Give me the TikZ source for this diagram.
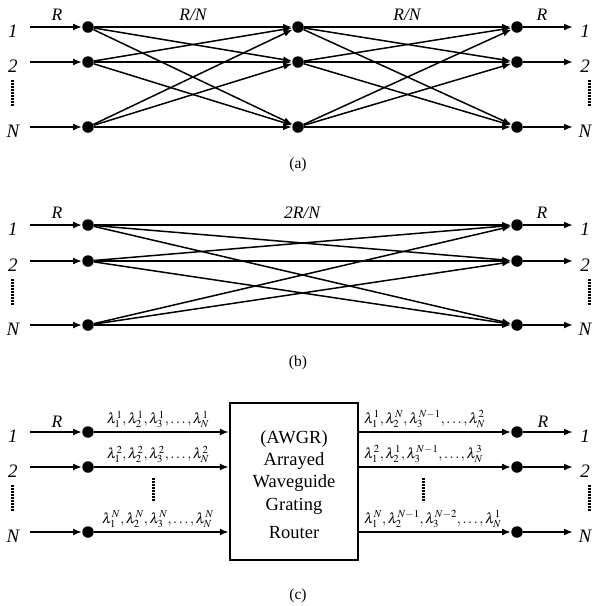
\documentclass[tikz,border=0pt]{standalone}
\usepackage{mathptmx}
\usepackage[no-math]{fontspec}
\setmainfont{Liberation Serif}
\usetikzlibrary{arrows.meta}
\begin{document}
\begin{tikzpicture}[x=1pt,y=-1pt,
  dot/.style={circle,fill=black,inner sep=0pt,minimum size=11.5pt},
  io/.style={line width=2.3pt,-{Latex[length=9pt,width=7pt]}},
  link/.style={line width=1.5pt,-{Latex[length=9pt,width=6.5pt]}},
  vdots/.style={line width=3pt,dash pattern=on 1.6pt off 1.4pt},
  portlbl/.style={font=\fontsize{19}{22}\selectfont\itshape,anchor=base,inner sep=0pt},
  ratelbl/.style={font=\fontsize{17.5}{20}\selectfont\itshape,anchor=base,inner sep=0pt},
  caplbl/.style={font=\fontsize{15.5}{18}\selectfont,anchor=base,inner sep=0pt},
  boxtxt/.style={font=\fontsize{18.5}{21}\selectfont,anchor=base,inner sep=0pt},
  wl/.style={font=\fontsize{14.5}{17}\selectfont,inner sep=0pt}]
\useasboundingbox (0,0) rectangle (598,606);

% ports, dots, input/output arrows for all three panels
\foreach \p/\ya/\yb/\yn in {a/27/62/127,b/225/261/325,c/432/467/532}{
  \foreach \r/\y in {1/\ya,2/\yb,N/\yn}{
    \node[dot] (L\p\r) at (88,\y) {};
    \node[dot] (R\p\r) at (517,\y) {};
    \coordinate (I\p\r) at (30,\y);
    \coordinate (O\p\r) at (573,\y);
    \node[portlbl] (il\p\r) at (13,\y+10) {\r};
    \node[portlbl] (ol\p\r) at (585,\y+10) {\r};
    \draw[io] (I\p\r) -- (L\p\r);
    \draw[io] (R\p\r) -- (O\p\r);
  }
  \draw[vdots] (12,\yb+18) -- (12,\yb+44);
  \draw[vdots] (589,\yb+18) -- (589,\yb+44);
}

% panel (a)
\foreach \r/\y in {1/27,2/62,N/127}{
  \node[dot] (Ma\r) at (298,\y) {};
}
\foreach \s in {1,2,N}{
  \foreach \t in {1,2,N}{
    \draw[link] (La\s) -- (Ma\t);
    \draw[link] (Ma\s) -- (Ra\t);
  }
}
\node[ratelbl] (ra1) at (57,20) {R};
\node[ratelbl] (ra2) at (193,20) {R/N};
\node[ratelbl] (ra3) at (407,20) {R/N};
\node[ratelbl] (ra4) at (542,20) {R};
\node[caplbl] (capa) at (298,168) {(a)};

% panel (b)
\foreach \s in {1,2,N}{
  \foreach \t in {1,2,N}{
    \draw[link] (Lb\s) -- (Rb\t);
  }
}
\node[ratelbl] (rb1) at (57,218) {R};
\node[ratelbl] (rb2) at (302,218) {2R/N};
\node[ratelbl] (rb4) at (542,218) {R};
\node[caplbl] (capb) at (298,366) {(b)};

% panel (c)
\node[draw,line width=2.2pt,minimum width=128pt,minimum height=157pt,inner sep=0pt] (awgr) at (294,481.5) {};
\node[boxtxt] (t1) at (294,443) {(AWGR)};
\node[boxtxt] (t2) at (294,465) {Arrayed};
\node[boxtxt] (t3) at (294,487) {Waveguide};
\node[boxtxt] (t4) at (294,510) {Grating};
\node[boxtxt] (t5) at (294,538) {Router};
\foreach \r in {1,2,N}{
  \draw[io] (Lc\r) -- (awgr.west |- Lc\r);
  \draw[io] (awgr.east |- Rc\r) -- (Rc\r);
}
\node[ratelbl] (rc1) at (57,427) {R};
\node[ratelbl] (rc4) at (543,427) {R};
\node[wl,anchor=south] (wa1) at (158,428) {$\lambda_1^1,\lambda_2^1,\lambda_3^1,\ldots,\lambda_N^1$};
\node[wl,anchor=south] (wa2) at (158,463) {$\lambda_1^2,\lambda_2^2,\lambda_3^2,\ldots,\lambda_N^2$};
\node[wl,anchor=south] (wa3) at (158,528) {$\lambda_1^N,\lambda_2^N,\lambda_3^N,\ldots,\lambda_N^N$};
\node[wl,anchor=south west] (wb1) at (364,428) {$\lambda_1^1,\lambda_2^N,\lambda_3^{N-1},\ldots,\lambda_N^2$};
\node[wl,anchor=south west] (wb2) at (364,463) {$\lambda_1^2,\lambda_2^1,\lambda_3^{N-1},\ldots,\lambda_N^3$};
\node[wl,anchor=south west] (wb3) at (364,528) {$\lambda_1^N,\lambda_2^{N-1},\lambda_3^{N-2},\ldots,\lambda_N^1$};
\draw[vdots] (153,478) -- (153,502);
\draw[vdots] (423,478) -- (423,502);
\node[caplbl] (capc) at (298,599) {(c)};
\end{tikzpicture}
\end{document}
